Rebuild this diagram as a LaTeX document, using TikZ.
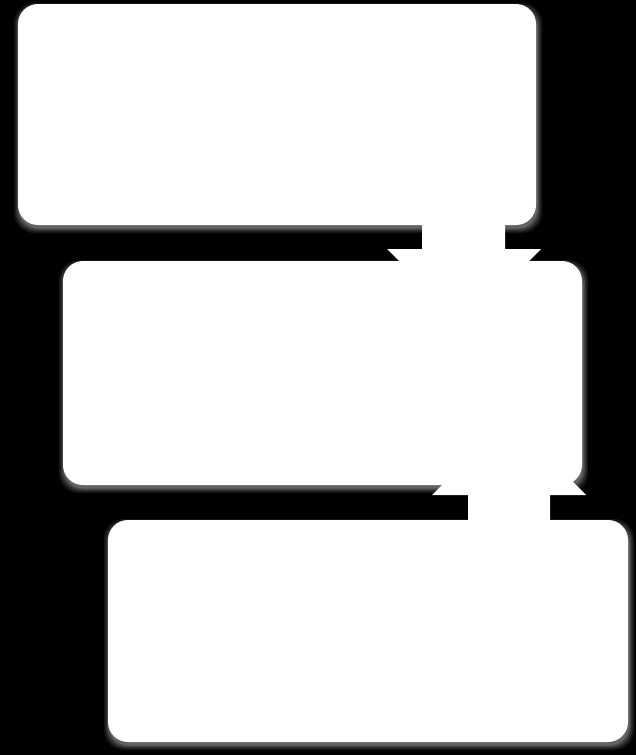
\documentclass[tikz,border=0pt]{standalone}
\usetikzlibrary{calc}
\tikzset{
  box/.style={draw=none, fill=white, rounded corners=20pt, inner sep=0pt, outer sep=0pt},
  blockarrow/.style={fill=white, draw=none},
}
\newcommand{\glow}[4]{% x1 y1 x2 y2 (pixel coords)
  \foreach \k/\o in {5/0.08,3.5/0.10,2/0.13,0.5/0.16}{
    \fill[white, opacity=\o, rounded corners=20pt] (#1-\k+1,#2-\k+4) rectangle (#3+\k+1,#4+\k+3);
  }}
\begin{document}
\begin{tikzpicture}[x=1pt,y=-1pt]
\fill[black] (0,0) rectangle (636,755);
\useasboundingbox (0,0) rectangle (636,755);
% glows / shadows
\glow{18}{4}{536}{225}
\glow{63}{261}{582}{485}
\glow{108}{520}{628}{742}
% block arrows (behind boxes)
\fill[blockarrow] (422,220) -- (505,220) -- (505,249) -- (541,249) -- (464,326) -- (387,249) -- (422,249) -- cycle;
\fill[blockarrow] (468,525) -- (550,525) -- (550,495) -- (586,495) -- (509,418) -- (432,495) -- (468,495) -- cycle;
% boxes
\node[box, minimum width=518pt, minimum height=221pt] (b1) at (277,114.5) {};
\node[box, minimum width=519pt, minimum height=224pt] (b2) at (322.5,373) {};
\node[box, minimum width=520pt, minimum height=222pt] (b3) at (368,631) {};
\end{tikzpicture}
\end{document}
